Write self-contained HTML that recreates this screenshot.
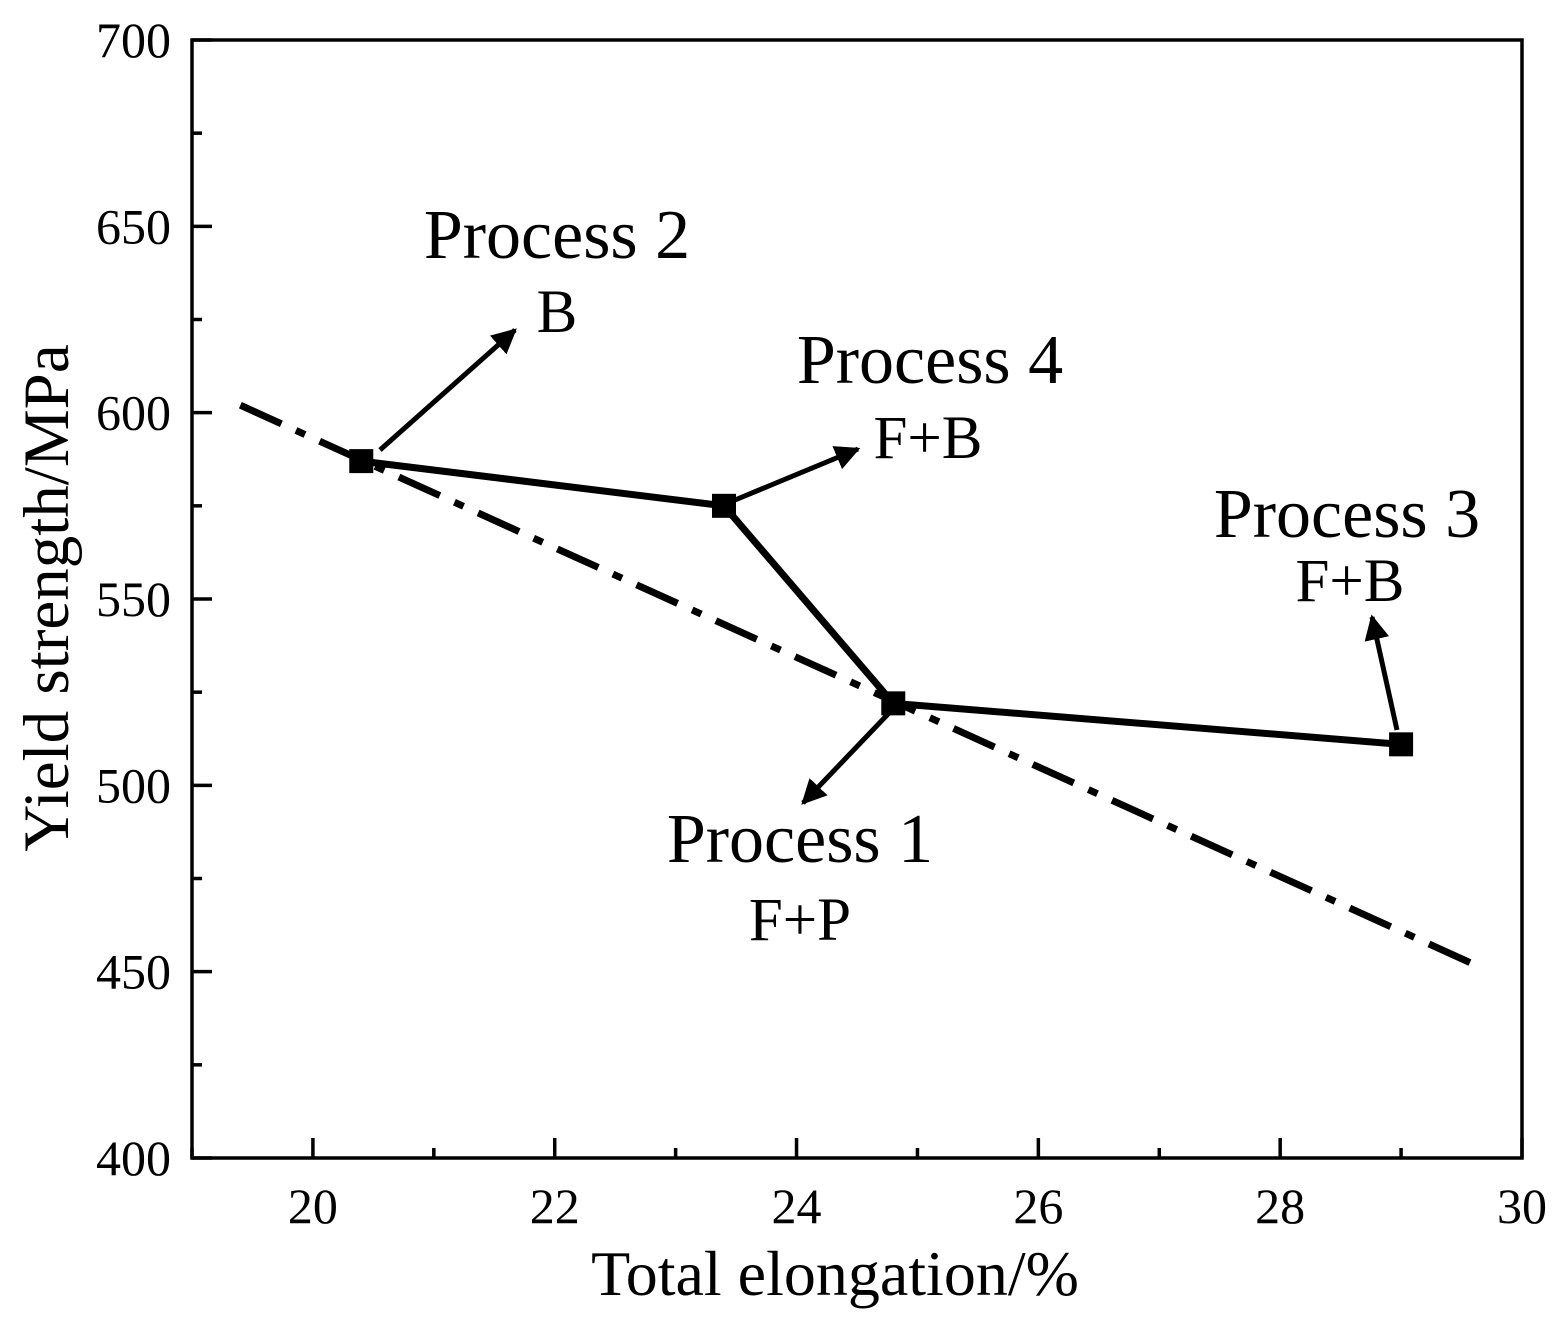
<!DOCTYPE html>
<html><head><meta charset="utf-8"><style>
html,body{margin:0;padding:0;background:#fff;}
svg{display:block;font-family:"Liberation Serif",serif;}
</style></head><body>
<svg id="chart" width="1562" height="1319" viewBox="0 0 1562 1319">
<defs><marker id="ah" viewBox="0 0 10 10" refX="9" refY="5" markerWidth="5" markerHeight="5" orient="auto-start-reverse"><path d="M0,0 L10,5 L0,10 z" fill="#000"/></marker></defs>
</svg>
<script>
const xTicks=[20,22,24,26,28,30];
const yTicks=[400,450,500,550,600,650,700];
const ptX=[20.4,23.4,24.8,29.0];
const ptY=[587,575,522,511];
const trendX=[19.4,29.6];
const trendY=[602,452];
const labels=["Process 2","Process 4","Process 1","Process 3"];
const phases=["B","F+B","F+P","F+B"];
const L=192,R=1522,T=40,B=1158,X0=19,X1=30,Y0=400,Y1=700;
const sx=v=>L+(v-X0)/(X1-X0)*(R-L);
const sy=v=>B-(v-Y0)/(Y1-Y0)*(B-T);
const svg=document.getElementById('chart');
const NS='http://www.w3.org/2000/svg';
function mk(tag,at,parent){const e=document.createElementNS(NS,tag);for(const k in at)e.setAttribute(k,at[k]);(parent||svg).appendChild(e);return e;}
let e=mk('rect',{x:L,y:T,width:R-L,height:B-T,fill:'none',stroke:'#000','stroke-width':3.5});

for(let v=19;v<=30;v++){const x=sx(v);const maj=v%2==0;
 e=mk('line',{x1:x,x2:x,y1:B,y2:B-(maj?20:10),stroke:'#000','stroke-width':3.5});
 }
xTicks.forEach(v=>{e=mk('text',{x:sx(v),y:1223,'font-size':50,'text-anchor':'middle'});e.textContent=v;
 });
for(let v=400;v<=700;v+=25){const y=sy(v);const maj=v%50==0;
 e=mk('line',{x1:L,x2:L+(maj?20:10),y1:y,y2:y,stroke:'#000','stroke-width':3.5});
 }
yTicks.forEach(v=>{e=mk('text',{x:171,y:sy(v)+17,'font-size':50,'text-anchor':'end'});e.textContent=v;
 });
e=mk('text',{x:835,y:1295,'font-size':64,'text-anchor':'middle'});e.textContent='Total elongation/%';

e=mk('text',{x:0,y:0,'font-size':65,'text-anchor':'middle',transform:'translate(68,598) rotate(-90)'});e.textContent='Yield strength/MPa';

e=mk('line',{x1:sx(trendX[0]),y1:sy(trendY[0]),x2:sx(trendX[1]),y2:sy(trendY[1]),stroke:'#000','stroke-width':7,'stroke-dasharray':'45,16,10,16'});

e=mk('polyline',{points:ptX.map((v,i)=>sx(v)+','+sy(ptY[i])).join(' '),fill:'none',stroke:'#000','stroke-width':7});

ptX.forEach((v,i)=>{e=mk('rect',{x:sx(v)-12,y:sy(ptY[i])-12,width:24,height:24,fill:'#000'});
 });
const arrows=[[380,450,515,330],[735,500,858,449],[890,712,803,803],[1397,730,1372,617]];
arrows.forEach(a=>{e=mk('line',{x1:a[0],y1:a[1],x2:a[2],y2:a[3],stroke:'#000','stroke-width':5,'marker-end':'url(#ah)'});
 });
const lp=[[557,258,557,332],[930,383,928,458],[800,862,800,940],[1347,537,1350,601]];
lp.forEach((p,i)=>{e=mk('text',{x:p[0],y:p[1],'font-size':70,'text-anchor':'middle'});e.textContent=labels[i];
 
 e=mk('text',{x:p[2],y:p[3],'font-size':61,'text-anchor':'middle'});e.textContent=phases[i];
 });
</script>
</body></html>
